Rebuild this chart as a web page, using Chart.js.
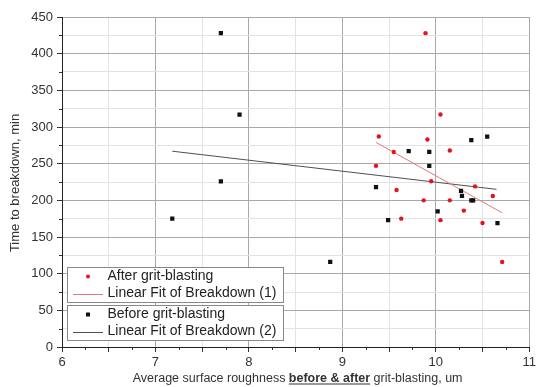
<!DOCTYPE html>
<html>
<head>
<meta charset="utf-8">
<script src="https://cdn.jsdelivr.net/npm/chart.js@4/dist/chart.umd.min.js"></script>
<style>
html,body{margin:0;padding:0;background:#fff;}
#wrap{width:539px;height:387px;}
</style>
</head>
<body>
<div id="wrap"><canvas id="c" width="539" height="387"></canvas></div>
<script>
// Data
const afterX  = [9.89, 10.05, 9.39, 9.91, 9.55, 10.15, 9.36, 9.95, 10.42, 9.58, 10.61, 9.87, 10.15, 10.30, 9.63, 10.05, 10.50, 10.71];
const afterY  = [428, 317, 287, 283, 266, 268, 247, 226, 219, 214, 206, 200, 200, 186, 175, 173, 169, 116];
const beforeX = [7.70, 7.90, 7.70, 7.18, 8.87, 9.36, 9.49, 9.71, 9.93, 9.93, 10.02, 10.27, 10.28, 10.38, 10.38, 10.40, 10.55, 10.66];
const beforeY = [428, 317, 226, 175, 116, 218, 173, 267, 266, 247, 185, 213, 206, 282, 200, 200, 287, 169];
const fitAfterX  = [9.36, 10.71];
const fitAfterY  = [279, 183];
const fitBeforeX = [7.18, 10.65];
const fitBeforeY = [267, 215];
const seriesLabels = ["After grit-blasting", "Linear Fit of Breakdown (1)", "Before grit-blasting", "Linear Fit of Breakdown (2)"];
const xTitleParts = [["Average surface roughness ", false], ["before & after", true], [" grit-blasting, um", false]];
const yTitle = "Time to breakdown, min";

const pts = (xs, ys) => xs.map((x, i) => ({x: x, y: ys[i]}));
const FONT = "'Liberation Sans', Arial, sans-serif";
const RED = '#e3141c', REDLINE = '#e07878', BLK = '#111', BLKLINE = '#505050';

const decor = {
  id: 'decor',
  afterDraw(chart) {
    const ctx = chart.ctx, xs = chart.scales.x, ys = chart.scales.y;
    ctx.save();
    // minor ticks (short)
    ctx.strokeStyle = '#333'; ctx.lineWidth = 1;
    for (let v = 25; v < 450; v += 50) {
      const py = Math.round(ys.getPixelForValue(v)) + 0.5;
      ctx.beginPath(); ctx.moveTo(xs.left - 3, py); ctx.lineTo(xs.left, py); ctx.stroke();
    }
    for (let v = 6.25; v < 11; v += 0.5) {
      const px = Math.round(xs.getPixelForValue(v)) + 0.5;
      ctx.beginPath(); ctx.moveTo(px, ys.bottom); ctx.lineTo(px, ys.bottom + 3); ctx.stroke();
    }
    // y title
    ctx.fillStyle = '#333';
    ctx.font = '13px ' + FONT;
    ctx.textAlign = 'center'; ctx.textBaseline = 'middle';
    ctx.translate(15.5, 183); ctx.rotate(-Math.PI / 2);
    ctx.fillText(yTitle, 0, 0);
    ctx.setTransform(1, 0, 0, 1, 0, 0);
    // x title with underlined bold part
    let widths = xTitleParts.map(p => { ctx.font = (p[1] ? 'bold ' : '') + '12.5px ' + FONT; return ctx.measureText(p[0]).width; });
    const total = widths.reduce((a, b) => a + b, 0);
    let x0 = (xs.left + xs.right) / 2 - total / 2 + 2;
    const by = 382;
    ctx.textAlign = 'left'; ctx.textBaseline = 'alphabetic';
    xTitleParts.forEach((p, i) => {
      ctx.font = (p[1] ? 'bold ' : '') + '12.5px ' + FONT;
      ctx.fillText(p[0], x0, by);
      if (p[1]) {
        ctx.fillRect(x0, by + 1.5, widths[i], 1);
      }
      x0 += widths[i];
    });
    // legend boxes
    const boxes = [
      {y: 267.5, marker: 'circle', mc: RED, lc: REDLINE, l1: seriesLabels[0], l2: seriesLabels[1]},
      {y: 305.5, marker: 'rect', mc: BLK, lc: BLKLINE, l1: seriesLabels[2], l2: seriesLabels[3]}
    ];
    boxes.forEach(b => {
      ctx.fillStyle = '#fff';
      ctx.fillRect(67.5, b.y, 216, 35);
      ctx.strokeStyle = '#888'; ctx.lineWidth = 1;
      ctx.strokeRect(67.5, b.y, 216, 35);
      const r1 = b.y + 9, r2 = b.y + 26;
      ctx.fillStyle = b.mc;
      if (b.marker === 'circle') { ctx.beginPath(); ctx.arc(88, r1, 2, 0, Math.PI * 2); ctx.fill(); }
      else { ctx.fillRect(86, r1 - 2, 4, 4); }
      ctx.strokeStyle = b.lc; ctx.beginPath(); ctx.moveTo(73, Math.round(r2) + 0.5); ctx.lineTo(103, Math.round(r2) + 0.5); ctx.stroke();
      ctx.fillStyle = '#222'; ctx.font = '14px ' + FONT; ctx.textBaseline = 'middle'; ctx.textAlign = 'left';
      ctx.fillText(b.l1, 107.5, r1);
      ctx.fillText(b.l2, 107.5, r2);
    });
    ctx.restore();
  }
};

new Chart(document.getElementById('c'), {
  type: 'scatter',
  data: {
    datasets: [
      {label: seriesLabels[1], type: 'line', data: pts(fitAfterX, fitAfterY), borderColor: REDLINE, borderWidth: 1, pointRadius: 0, fill: false, order: 2},
      {label: seriesLabels[3], type: 'line', data: pts(fitBeforeX, fitBeforeY), borderColor: BLKLINE, borderWidth: 1, pointRadius: 0, fill: false, order: 2},
      {label: seriesLabels[2], data: pts(beforeX, beforeY), pointStyle: 'rect', pointRadius: 3, backgroundColor: BLK, borderColor: BLK, borderWidth: 0, order: 1},
      {label: seriesLabels[0], data: pts(afterX, afterY), pointStyle: 'circle', pointRadius: 2.2, backgroundColor: RED, borderColor: RED, borderWidth: 0, order: 0}
    ]
  },
  options: {
    responsive: false,
    animation: false,
    events: [],
    layout: {padding: {top: 17, right: 5, left: 0, bottom: 0}},
    plugins: {legend: {display: false}, tooltip: {enabled: false}},
    scales: {
      x: {
        type: 'linear', min: 6, max: 11,
        afterFit: s => { s.height = 40; },
        ticks: {stepSize: 0.25, autoSkip: false, maxRotation: 0, padding: 3, color: '#333',
          font: {family: FONT, size: 13},
          callback: v => (Math.abs(v - Math.round(v)) < 1e-6 ? String(Math.round(v)) : '')},
        grid: {
          tickLength: 5,
          color: c => { const v = c.tick.value; if (Math.abs(v - Math.round(v)) < 1e-6) return '#a9a9a9'; if (Math.abs(v * 2 - Math.round(v * 2)) < 1e-6) return '#e3e3e3'; return 'rgba(0,0,0,0)'; },
          tickColor: c => { const v = c.tick.value; return Math.abs(v * 2 - Math.round(v * 2)) < 1e-6 ? '#333' : 'rgba(0,0,0,0)'; }
        },
        border: {color: '#222', width: 1}
      },
      y: {
        type: 'linear', min: 0, max: 450,
        afterFit: s => { s.width = 62; },
        ticks: {stepSize: 25, autoSkip: false, padding: 4, color: '#333',
          font: {family: FONT, size: 13},
          callback: v => (v % 50 === 0 ? String(v) : '')},
        grid: {
          tickLength: 5,
          color: c => (c.tick.value % 50 === 0 ? '#a9a9a9' : '#e3e3e3'),
          tickColor: c => (c.tick.value % 50 === 0 ? '#333' : 'rgba(0,0,0,0)')
        },
        border: {color: '#222', width: 1}
      }
    }
  },
  plugins: [decor]
});
</script>
</body>
</html>
